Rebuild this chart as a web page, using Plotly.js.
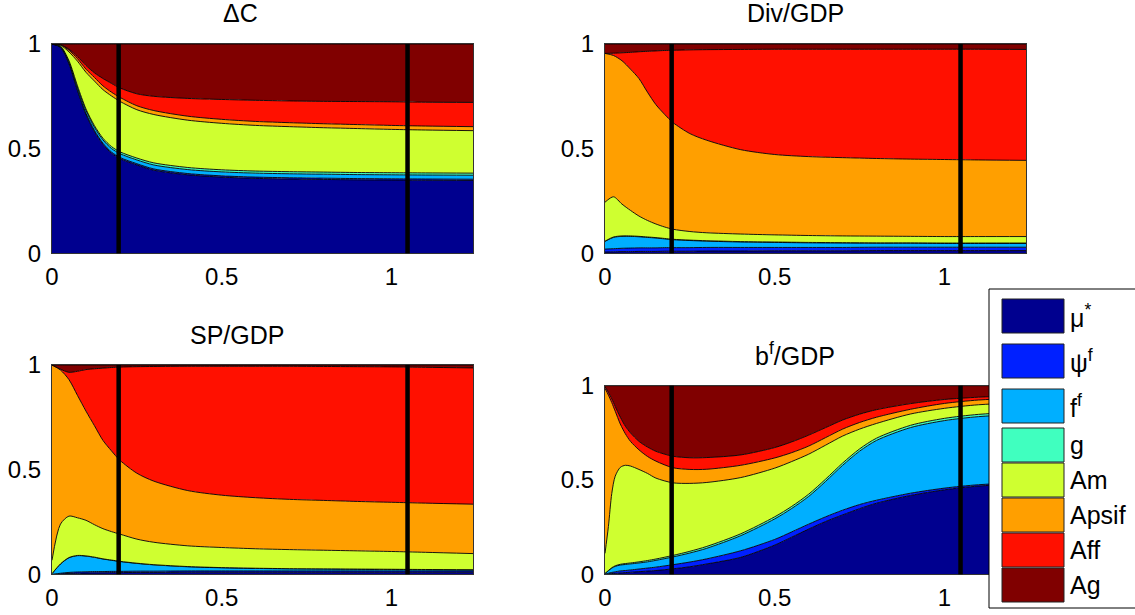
<!DOCTYPE html>
<html>
<head>
<meta charset="utf-8">
<script src="https://cdn.plot.ly/plotly-3.0.1.min.js"></script>
<style>
  html, body { margin: 0; padding: 0; background: #fff; }
  #chart { width: 1135px; height: 615px; }
</style>
</head>
<body>
<div id="chart"></div>
<script>
// Frequency grids (radians per period)
const freqA = [0, 0.025, 0.05, 0.075, 0.1, 0.125, 0.15, 0.175, 0.2, 0.25, 0.3, 0.4, 0.5, 0.6, 0.7, 0.8, 0.9, 1.0, 1.1, 1.24];
const freqB = [0, 0.01, 0.02, 0.03, 0.045, 0.06, 0.075, 0.1, 0.125, 0.15, 0.2, 0.25, 0.3, 0.4, 0.5, 0.55, 0.6, 0.65, 0.7, 0.75, 0.8, 0.9, 1.0, 1.1, 1.24];

// Business-cycle band edges: periods of 32 and 6 quarters
const bandEdges = [2 * Math.PI / 32, 2 * Math.PI / 6];

// Shock labels and colours (bottom to top of each stack)
const shockLabels = ['μ<sup>*</sup>', 'ψ<sup>f</sup>', 'f<sup>f</sup>', 'g', 'Am', 'Apsif', 'Aff', 'Ag'];
const shockColors = ['#00008F', '#0020FF', '#00AFFF', '#40FFBF', '#CFFF30', '#FF9F00', '#FF1000', '#800000'];

// Panel titles
const panelTitles = ['ΔC', 'Div/GDP', 'SP/GDP', 'b<sup>f</sup>/GDP'];

// ΔC : variance shares by frequency
const dC_mu    = [1, .984, .905, .778, .664, .582, .521, .478, .452, .422, .397, .375, .364, .358, .355, .353, .351, .35, .349, .348];
const dC_psi   = [0, .001, .003, .004, .005, .005, .005, .006, .006, .006, .006, .006, .006, .006, .006, .006, .006, .006, .006, .006];
const dC_ff    = [0, .003, .008, .012, .014, .015, .016, .017, .018, .018, .019, .019, .019, .019, .019, .019, .019, .019, .019, .019];
const dC_g     = [0, .002, .004, .006, .007, .008, .008, .009, .009, .009, .01, .01, .01, .01, .01, .01, .01, .01, .01, .01];
const dC_Am    = [0, .004, .042, .118, .175, .213, .232, .242, .241, .231, .231, .226, .222, .218, .215, .212, .21, .207, .205, .203];
const dC_Apsif = [0, .003, .008, .012, .015, .017, .018, .018, .019, .019, .019, .019, .019, .019, .019, .019, .019, .019, .019, .019];
const dC_Aff   = [0, 0, .005, .01, .018, .022, .035, .042, .045, .057, .068, .085, .095, .101, .104, .107, .11, .113, .114, .116];
const dC_Ag    = [0, .003, .025, .06, .102, .138, .165, .188, .21, .238, .25, .26, .265, .269, .272, .274, .275, .276, .278, .279];

// Div/GDP
const div_mu    = [.006, .007, .008, .008, .009, .009, .009, .01, .01, .01, .011, .011, .012, .012, .012, .013, .013, .013, .013, .013];
const div_psi   = [.014, .015, .016, .017, .017, .017, .017, .017, .017, .017, .017, .017, .016, .016, .016, .016, .016, .016, .016, .016];
const div_ff    = [.037, .054, .057, .056, .053, .05, .047, .042, .038, .034, .03, .026, .024, .022, .021, .019, .019, .018, .018, .018];
const div_g     = [.001, .002, .002, .002, .002, .002, .002, .002, .002, .002, .002, .002, .002, .002, .002, .002, .002, .002, .002, .002];
const div_Am    = [.186, .192, .152, .122, .097, .079, .065, .055, .048, .041, .038, .036, .034, .033, .032, .032, .031, .031, .031, .031];
const div_Apsif = [.711, .675, .685, .675, .657, .613, .57, .539, .51, .468, .442, .403, .384, .377, .374, .371, .369, .368, .366, .364];
const div_Aff   = [0, .011, .038, .08, .128, .195, .257, .304, .345, .4, .433, .479, .503, .513, .518, .522, .525, .527, .529, .53];
const div_Ag    = [.045, .044, .042, .04, .037, .035, .033, .031, .03, .028, .027, .026, .025, .025, .025, .025, .025, .025, .025, .026];

// SP/GDP
const sp_mu    = [0, .002, .004, .005, .006, .007, .007, .008, .008, .009, .009, .01, .01, .01, .01, .01, .01, .01, .01, .01];
const sp_psi   = [0, .003, .005, .006, .006, .006, .006, .006, .006, .006, .006, .006, .006, .006, .006, .006, .006, .006, .006, .006];
const sp_ff    = [.003, .044, .07, .078, .075, .068, .06, .053, .047, .037, .03, .02, .015, .012, .01, .009, .008, .007, .006, .005];
const sp_g     = [0, .001, .001, .001, .001, .001, .001, .001, .001, .001, .001, .001, .001, .001, .001, .001, .001, .001, .001, .001];
const sp_Am    = [.064, .19, .198, .18, .17, .155, .144, .136, .13, .115, .107, .099, .096, .093, .091, .089, .087, .085, .082, .077];
const sp_Apsif = [.933, .736, .652, .585, .522, .473, .422, .386, .353, .315, .292, .264, .25, .244, .24, .238, .236, .235, .235, .236];
const sp_Aff   = [0, .004, .035, .115, .198, .272, .345, .398, .445, .509, .548, .594, .616, .628, .636, .64, .644, .647, .649, .651];
const sp_Ag    = [0, .02, .035, .03, .022, .018, .015, .012, .01, .008, .007, .006, .006, .006, .006, .007, .008, .009, .011, .014];

// b^f/GDP
const bf_mu    = [0, .002, .004, .005, .007, .009, .011, .014, .017, .02, .029, .04, .055, .09, .155, .197, .24, .28, .315, .348, .377, .418, .448, .468, .48];
const bf_psi   = [0, .004, .006, .008, .011, .011, .012, .014, .016, .018, .022, .025, .027, .035, .03, .028, .026, .025, .025, .022, .016, .012, .009, .007, .007];
const bf_ff    = [.005, .013, .023, .029, .031, .032, .032, .032, .033, .036, .041, .048, .056, .08, .109, .124, .147, .188, .238, .283, .317, .348, .358, .361, .363];
const bf_g     = [0, .001, .002, .003, .004, .005, .005, .006, .007, .007, .008, .009, .01, .01, .011, .011, .012, .012, .012, .012, .012, .012, .012, .012, .012];
const bf_Am    = [.106, .233, .394, .475, .514, .521, .514, .49, .462, .429, .385, .36, .339, .298, .258, .238, .212, .18, .143, .105, .078, .06, .053, .051, .048];
const bf_Apsif = [.875, .697, .481, .345, .23, .167, .131, .104, .09, .09, .08, .074, .07, .065, .054, .047, .043, .04, .037, .035, .033, .025, .026, .025, .025];
const bf_Aff   = [.009, .015, .02, .025, .036, .04, .045, .045, .05, .052, .061, .062, .062, .055, .055, .057, .058, .053, .048, .044, .04, .03, .021, .015, .015];
const bf_Ag    = [.005, .035, .07, .11, .167, .215, .25, .295, .325, .348, .374, .382, .381, .367, .328, .298, .262, .222, .182, .151, .127, .095, .073, .061, .05];

const panels = [
  { x: freqA, series: [dC_mu, dC_psi, dC_ff, dC_g, dC_Am, dC_Apsif, dC_Aff, dC_Ag] },
  { x: freqA, series: [div_mu, div_psi, div_ff, div_g, div_Am, div_Apsif, div_Aff, div_Ag] },
  { x: freqA, series: [sp_mu, sp_psi, sp_ff, sp_g, sp_Am, sp_Apsif, sp_Aff, sp_Ag] },
  { x: freqB, series: [bf_mu, bf_psi, bf_ff, bf_g, bf_Am, bf_Apsif, bf_Aff, bf_Ag] }
];

// ---- figure geometry (pixels) ----
const W = 1135, H = 615;
const px = v => v / W;
const py = v => 1 - v / H;
const FONT = 'Liberation Sans, Arial, Helvetica, sans-serif';

const axisIds = ['', '2', '3', '4'];
const boxes = [
  { l: 52,  r: 473,  t: 44,    b: 253.3 },
  { l: 605, r: 1026, t: 44,    b: 253.3 },
  { l: 52,  r: 473,  t: 365,   b: 574.3 },
  { l: 605, r: 1026, t: 385.7, b: 574.3 }
];

const traces = [];
panels.forEach((p, k) => {
  p.series.forEach((vals, i) => {
    traces.push({
      type: 'scatter', mode: 'lines',
      x: p.x, y: vals,
      xaxis: 'x' + axisIds[k], yaxis: 'y' + axisIds[k],
      stackgroup: 'panel' + k,
      groupnorm: i === 0 ? 'fraction' : undefined,
      fillcolor: shockColors[i],
      line: { color: '#000', width: 0.9, shape: 'spline', smoothing: 0.8 },
      hoverinfo: 'skip', showlegend: false
    });
  });
});

const layout = {
  width: W, height: H,
  margin: { l: 0, r: 0, t: 0, b: 0 },
  paper_bgcolor: '#fff', plot_bgcolor: '#fff',
  showlegend: false,
  font: { family: FONT, size: 24, color: '#000' },
  shapes: [], annotations: []
};

boxes.forEach((b, k) => {
  const id = axisIds[k];
  const common = {
    showgrid: false, zeroline: false, showline: true, mirror: true,
    linecolor: '#333', linewidth: 1, ticks: '', fixedrange: true,
    tickfont: { family: FONT, size: 24, color: '#000' }
  };
  layout['xaxis' + id] = Object.assign({}, common, {
    domain: [px(b.l), px(b.r)], anchor: 'y' + id, range: [0, 1.24],
    tickvals: [0, 0.5, 1], ticklabelstandoff: 2
  });
  layout['yaxis' + id] = Object.assign({}, common, {
    domain: [py(b.b), py(b.t)], anchor: 'x' + id, range: [0, 1],
    tickvals: [0, 0.5, 1], ticklabelstandoff: 5
  });
  bandEdges.forEach(f => {
    layout.shapes.push({
      type: 'line', xref: 'x' + id, yref: 'y' + id + ' domain',
      x0: f, x1: f, y0: 0, y1: 1,
      line: { color: '#000', width: 4.5 }
    });
  });
});

// Panel titles
const titlePos = [[240, 13], [795, 13], [237, 335], [795, 354]];
panelTitles.forEach((t, k) => {
  layout.annotations.push({
    text: t, xref: 'paper', yref: 'paper',
    x: px(titlePos[k][0]), y: py(titlePos[k][1]),
    xanchor: 'center', yanchor: 'middle', showarrow: false,
    font: { family: FONT, size: 25, color: '#000' }
  });
});

// Legend box with colour swatches
layout.shapes.push({
  type: 'rect', xref: 'paper', yref: 'paper',
  x0: px(989), x1: px(1145), y0: py(608), y1: py(289),
  fillcolor: '#fff', line: { color: '#000', width: 1 }
});
const rowTop = [299, 344, 389, 428, 463, 498, 533, 568];
const rowH = 34;
shockLabels.forEach((lab, i) => {
  layout.shapes.push({
    type: 'rect', xref: 'paper', yref: 'paper',
    x0: px(1002), x1: px(1064), y0: py(rowTop[i] + rowH), y1: py(rowTop[i]),
    fillcolor: shockColors[i], line: { color: '#222', width: 1 }
  });
  layout.annotations.push({
    text: lab, xref: 'paper', yref: 'paper',
    x: px(1068), y: py(rowTop[i] + rowH / 2),
    xanchor: 'left', yanchor: 'middle', showarrow: false,
    font: { family: FONT, size: 25, color: '#000' }
  });
});

Plotly.newPlot('chart', traces, layout, { staticPlot: true, displayModeBar: false });
</script>
</body>
</html>
